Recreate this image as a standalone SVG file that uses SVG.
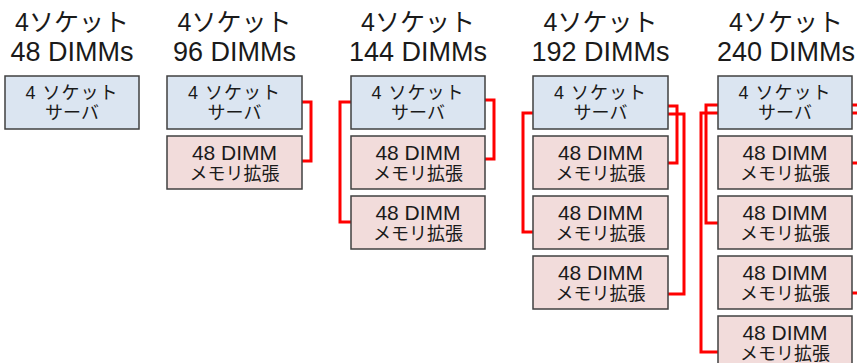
<svg xmlns="http://www.w3.org/2000/svg" width="857" height="363" viewBox="0 0 857 363">
<style>
text{font-family:"Liberation Sans","Noto Sans CJK JP",sans-serif;fill:#1a1a1a;text-anchor:middle}
.t{font-size:25px}
.tn{font-size:27px}
.b{font-size:18px}
.bs{font-size:18px;letter-spacing:1px}
.bn{font-size:21px}
.srv{fill:#dbe5f1;stroke:#404040;stroke-width:1.5}
.mem{fill:#f2dcdb;stroke:#404040;stroke-width:1.5}
.c{fill:none;stroke:#ff0000;stroke-width:3}
</style>
<rect width="857" height="363" fill="#ffffff"/>
<g id="titles">
<text class="t" x="72" y="31">4ソケット</text><text class="tn" x="72" y="61">48 DIMMs</text>
<text class="t" x="234.5" y="31">4ソケット</text><text class="tn" x="234.5" y="61">96 DIMMs</text>
<text class="t" x="418" y="31">4ソケット</text><text class="tn" x="418" y="61">144 DIMMs</text>
<text class="t" x="600.5" y="31">4ソケット</text><text class="tn" x="600.5" y="61">192 DIMMs</text>
<text class="t" x="786" y="31">4ソケット</text><text class="tn" x="786" y="61">240 DIMMs</text>
</g>
<g id="connectors">
<path class="c" d="M302,102H311V161H302"/>
<path class="c" d="M485,100H494V159H485"/>
<path class="c" d="M351,102H340V222H351"/>
<path class="c" d="M533,113H523V232H533"/>
<path class="c" d="M668,106H677V163H668"/>
<path class="c" d="M668,114H684V294H668"/>
<path class="c" d="M718,105H706V223H718"/>
<path class="c" d="M718,113H701V352H718"/>
<path class="c" d="M852,105H861V163H852"/>
<path class="c" d="M852,113H868V293H852"/>
</g>
<g id="c1-server"><rect class="srv" x="5" y="76" width="134" height="53"/><text class="bs" x="72" y="99">4 ソケット</text><text class="b" x="72" y="119">サーバ</text></g>
<g id="c2-server"><rect class="srv" x="167" y="76" width="135" height="53"/><text class="bs" x="234.5" y="99">4 ソケット</text><text class="b" x="234.5" y="119">サーバ</text></g>
<g id="c2-mem1"><rect class="mem" x="167" y="136" width="135" height="53"/><text class="bn" x="234.5" y="160">48 DIMM</text><text class="b" x="234.5" y="180">メモリ拡張</text></g>
<g id="c3-server"><rect class="srv" x="351" y="76" width="134" height="53"/><text class="bs" x="418" y="99">4 ソケット</text><text class="b" x="418" y="119">サーバ</text></g>
<g id="c3-mem1"><rect class="mem" x="351" y="136" width="134" height="53"/><text class="bn" x="418" y="160">48 DIMM</text><text class="b" x="418" y="180">メモリ拡張</text></g>
<g id="c3-mem2"><rect class="mem" x="351" y="196" width="134" height="53"/><text class="bn" x="418" y="220">48 DIMM</text><text class="b" x="418" y="240">メモリ拡張</text></g>
<g id="c4-server"><rect class="srv" x="533" y="76" width="135" height="53"/><text class="bs" x="600.5" y="99">4 ソケット</text><text class="b" x="600.5" y="119">サーバ</text></g>
<g id="c4-mem1"><rect class="mem" x="533" y="136" width="135" height="53"/><text class="bn" x="600.5" y="160">48 DIMM</text><text class="b" x="600.5" y="180">メモリ拡張</text></g>
<g id="c4-mem2"><rect class="mem" x="533" y="196" width="135" height="53"/><text class="bn" x="600.5" y="220">48 DIMM</text><text class="b" x="600.5" y="240">メモリ拡張</text></g>
<g id="c4-mem3"><rect class="mem" x="533" y="256" width="135" height="53"/><text class="bn" x="600.5" y="280">48 DIMM</text><text class="b" x="600.5" y="300">メモリ拡張</text></g>
<g id="c5-server"><rect class="srv" x="718" y="76" width="134" height="53"/><text class="bs" x="785" y="99">4 ソケット</text><text class="b" x="785" y="119">サーバ</text></g>
<g id="c5-mem1"><rect class="mem" x="718" y="136" width="134" height="53"/><text class="bn" x="785" y="160">48 DIMM</text><text class="b" x="785" y="180">メモリ拡張</text></g>
<g id="c5-mem2"><rect class="mem" x="718" y="196" width="134" height="53"/><text class="bn" x="785" y="220">48 DIMM</text><text class="b" x="785" y="240">メモリ拡張</text></g>
<g id="c5-mem3"><rect class="mem" x="718" y="256" width="134" height="53"/><text class="bn" x="785" y="280">48 DIMM</text><text class="b" x="785" y="300">メモリ拡張</text></g>
<g id="c5-mem4"><rect class="mem" x="718" y="316" width="134" height="53"/><text class="bn" x="785" y="340">48 DIMM</text><text class="b" x="785" y="360">メモリ拡張</text></g>
</svg>
